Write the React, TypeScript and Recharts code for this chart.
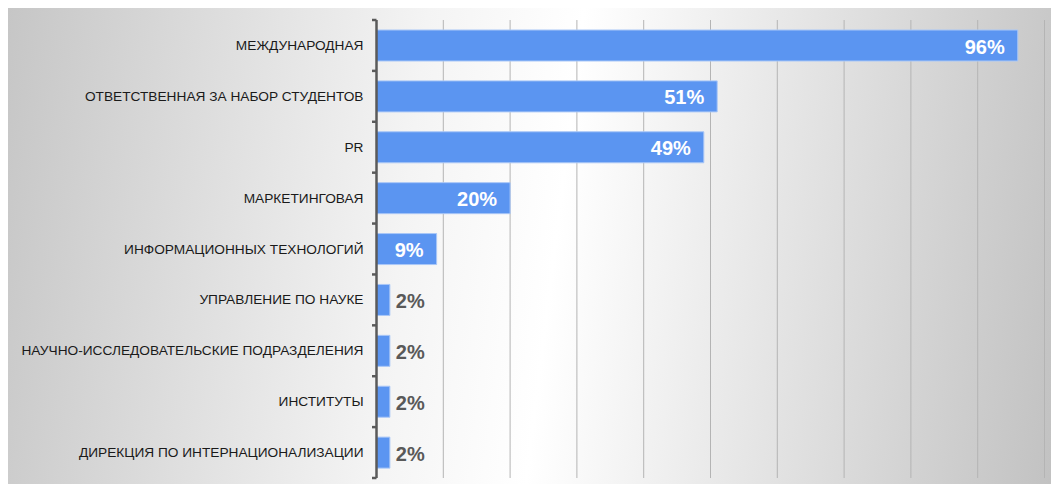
import React from 'react';
import { BarChart, Bar, XAxis, YAxis, CartesianGrid, LabelList } from 'recharts';

const categories = [
  'МЕЖДУНАРОДНАЯ',
  'ОТВЕТСТВЕННАЯ ЗА НАБОР СТУДЕНТОВ',
  'PR',
  'МАРКЕТИНГОВАЯ',
  'ИНФОРМАЦИОННЫХ ТЕХНОЛОГИЙ',
  'УПРАВЛЕНИЕ ПО НАУКЕ',
  'НАУЧНО-ИССЛЕДОВАТЕЛЬСКИЕ ПОДРАЗДЕЛЕНИЯ',
  'ИНСТИТУТЫ',
  'ДИРЕКЦИЯ ПО ИНТЕРНАЦИОНАЛИЗАЦИИ',
];
const values = [96, 51, 49, 20, 9, 2, 2, 2, 2];
const xTicks = [0, 10, 20, 30, 40, 50, 60, 70, 80, 90, 100];

const data = categories.map((name, i) => ({ name, value: values[i] }));

const W = 1052;
const H = 476;
const MARGIN = { top: 12, right: 14.5, bottom: 6, left: 0 };
const YAXIS_W = 369.5;
const PLOT_H = H - MARGIN.top - MARGIN.bottom;
const BAND = PLOT_H / categories.length;
const TICK_MARGIN = 13;
const FONT = '"Liberation Sans", Arial, sans-serif';

const CategoryTick = (props: any) => {
  const { x, y, payload, index } = props;
  const axisX = x + TICK_MARGIN;
  const top = y - BAND / 2;
  const bottom = y + BAND / 2;
  return (
    <g>
      <line x1={axisX - 4.5} y1={top} x2={axisX} y2={top} stroke="#5a5a5a" strokeWidth={2.5} />
      {index === categories.length - 1 && (
        <line x1={axisX - 4.5} y1={bottom} x2={axisX} y2={bottom} stroke="#5a5a5a" strokeWidth={2.5} />
      )}
      <text
        x={x}
        y={y}
        textAnchor="end"
        dominantBaseline="central"
        fontFamily={FONT}
        fontSize={13.7}
        fill="#1a1a1a"
      >
        {payload.value}
      </text>
    </g>
  );
};

const ValueLabel = (props: any) => {
  const { x, y, width, height, value } = props;
  const inside = value >= 5;
  const tx = inside ? x + width - 13 : x + width + 6;
  return (
    <text
      x={tx}
      y={y + height / 2 + 1}
      textAnchor={inside ? 'end' : 'start'}
      dominantBaseline="central"
      fontFamily={FONT}
      fontWeight="bold"
      fontSize={20}
      fill={inside ? '#ffffff' : '#595959'}
    >
      {value}%
    </text>
  );
};

export default function App() {
  return (
    <div
      style={{
        width: W,
        height: H,
        marginLeft: -1,
        background: 'linear-gradient(97deg, #c6c6c6 0%, #f4f4f4 38%, #ffffff 52%, #ededed 66%, #c1c1c1 100%)',
      }}
    >
      <BarChart width={W} height={H} data={data} layout="vertical" margin={MARGIN}>
        <CartesianGrid horizontal={false} vertical stroke="#b4b4b4" strokeWidth={1} />
        <XAxis type="number" domain={[0, 100]} ticks={xTicks} hide />
        <YAxis
          type="category"
          dataKey="name"
          width={YAXIS_W}
          tickLine={false}
          tickSize={0}
          tickMargin={TICK_MARGIN}
          axisLine={{ stroke: '#5a5a5a', strokeWidth: 2.5 }}
          tick={<CategoryTick />}
          interval={0}
        />
        <Bar
          dataKey="value"
          fill="#5b95f1"
          stroke="#a9c7f7"
          strokeWidth={1}
          barSize={31}
          isAnimationActive={false}
        >
          <LabelList dataKey="value" content={<ValueLabel />} />
        </Bar>
      </BarChart>
    </div>
  );
}
